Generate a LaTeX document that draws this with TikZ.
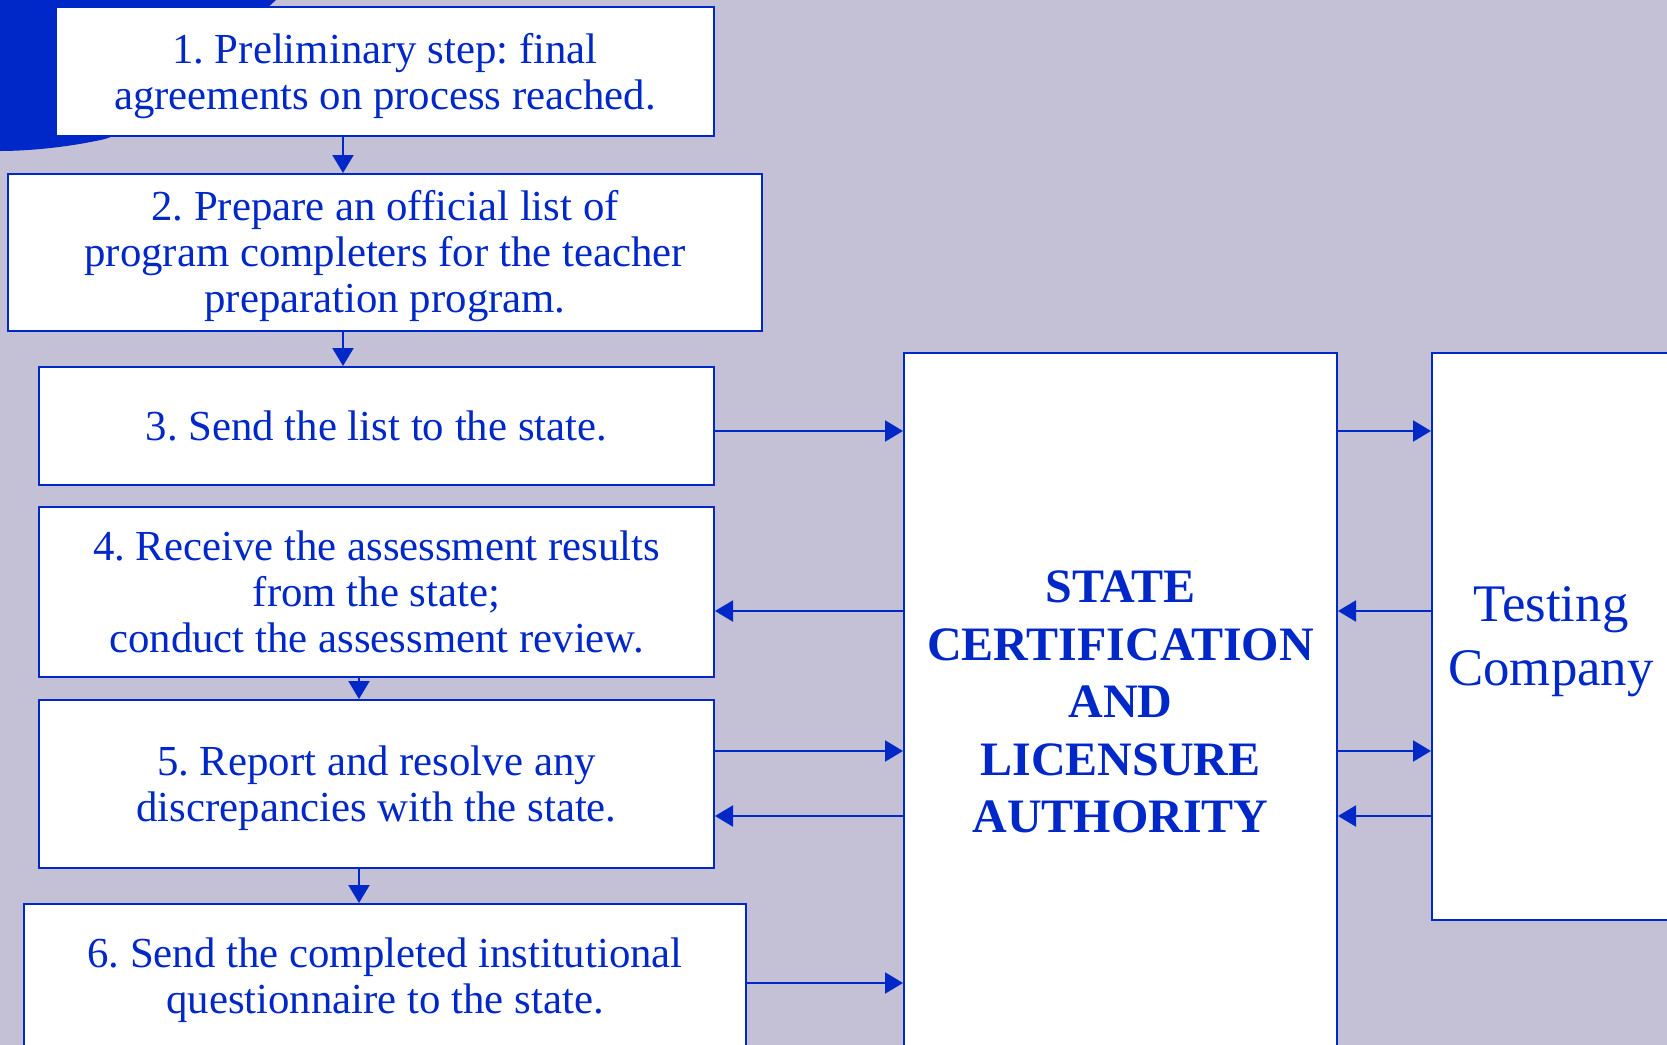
\documentclass[tikz,border=0pt]{standalone}
\usepackage{fontspec}
\setmainfont{Liberation Serif}
\frenchspacing
\usepackage{tikz}
\usetikzlibrary{arrows.meta}
\definecolor{slidebg}{RGB}{196,193,214}
\definecolor{slideblue}{RGB}{0,40,200}
\tikzset{
	stepbox/.style={
		rectangle,
		draw=slideblue,
		fill=white,
		line width=1pt,
		text=slideblue,
		align=center,
		inner sep=0pt,
		font=\fontsize{21.4pt}{23pt}\selectfont
	},
	flow/.style={
		draw=slideblue,
		line width=1pt,
		-{Triangle[length=9pt,width=10.5pt]}
	}
}

\begin{document}
\begin{tikzpicture}[x=0.5pt, y=-0.5pt]
			\useasboundingbox (0,0) rectangle (1667,1045);
			\fill [slidebg] (0,0) rectangle (1667,1045);
			\fill [slideblue] (0,0) -- (276,0) .. controls (215,55) and (165,120) .. (105,139) .. controls (65,148) and (25,151) .. (0,151) -- cycle;
			\coordinate (c1) at (343,0);
			\coordinate (c2) at (359,0);
			\coordinate (lv1) at (0,431);
			\coordinate (lv2) at (0,611);
			\coordinate (lv3) at (0,751);
			\coordinate (lv4) at (0,816);
			\coordinate (lv5) at (0,983);
			\node [stepbox, minimum width=329pt, minimum height=64.5pt] (s1) at (385,71.5) {\rule{0pt}{19.8pt}1. Preliminary step: final\\agreements on process reached.};
			\node [stepbox, minimum width=377pt, minimum height=78.5pt] (s2) at (385,252.5) {\rule{0pt}{18.2pt}2. Prepare an official list of\\program completers for the teacher\\preparation program.};
			\node [stepbox, minimum width=337.5pt, minimum height=59pt] (s3) at (376.5,426) {3. Send the list to the state.};
			\node [stepbox, minimum width=337.5pt, minimum height=85pt] (s4) at (376.5,592) {4. Receive the assessment results\\from the state;\\conduct the assessment review.};
			\node [stepbox, minimum width=337.5pt, minimum height=84pt] (s5) at (376.5,784) {\rule{0pt}{18.8pt}5. Report and resolve any\\discrepancies with the state.};
			\node [stepbox, minimum width=361pt, minimum height=76.5pt] (s6) at (385,980.5) {6. Send the completed institutional\\questionnaire to the state.};
			\node [stepbox, minimum width=216.5pt, minimum height=349pt, font=\bfseries\fontsize{24pt}{28.7pt}\selectfont] (state) at (1120.5,702) {STATE\\CERTIFICATION\\AND\\LICENSURE\\AUTHORITY};
			\node [stepbox, minimum width=119pt, minimum height=283.5pt, font=\fontsize{26.4pt}{32pt}\selectfont] (test) at (1551,636.5) {\rule{0pt}{22.6pt}Testing\\Company};
			\draw [flow] (s1.south -| c1) -- (s2.north -| c1);
			\draw [flow] (s2.south -| c1) -- (s3.north -| c1);
			\draw [flow] (s4.south -| c2) -- (s5.north -| c2);
			\draw [flow] (s5.south -| c2) -- (s6.north -| c2);
			\draw [flow] (s3.east |- lv1) -- (state.west |- lv1);
			\draw [flow] (state.east |- lv1) -- (test.west |- lv1);
			\draw [flow] (state.west |- lv2) -- (s4.east |- lv2);
			\draw [flow] (test.west |- lv2) -- (state.east |- lv2);
			\draw [flow] (s5.east |- lv3) -- (state.west |- lv3);
			\draw [flow] (state.east |- lv3) -- (test.west |- lv3);
			\draw [flow] (state.west |- lv4) -- (s5.east |- lv4);
			\draw [flow] (test.west |- lv4) -- (state.east |- lv4);
			\draw [flow] (s6.east |- lv5) -- (state.west |- lv5);
		\end{tikzpicture}
\end{document}
